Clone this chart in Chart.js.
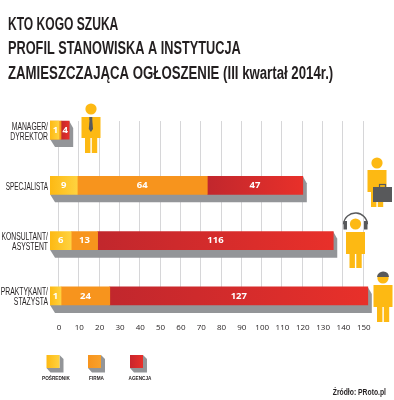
<!DOCTYPE html>
<html><head><meta charset="utf-8">
<style>html,body{margin:0;padding:0;background:#fff}#w{width:394px;height:400px;position:relative}</style>
<script src="https://cdn.jsdelivr.net/npm/chart.js@4"></script></head>
<body><div id="w"><canvas id="c" width="394" height="400"></canvas></div>
<script>
const categories = [["MANAGER/","DYREKTOR"],["SPECJALISTA"],["KONSULTANT/","ASYSTENT"],["PRAKTYKANT/","STAŻYSTA"]];
const posrednik = [0, 9, 6, 1];
const firma = [1, 64, 13, 24];
const agencja = [4, 47, 116, 127];
const tickValues = [0,10,20,30,40,50,60,70,80,90,100,110,120,130,140,150];
const titleLines = ["KTO KOGO SZUKA","PROFIL STANOWISKA A INSTYTUCJA","ZAMIESZCZAJĄCA OGŁOSZENIE (III kwartał 2014r.)"];
const seriesNames = ["POŚREDNIK","FIRMA","AGENCJA"];
const sourceText = "Źródło: PRoto.pl";

const SANS = '"Liberation Sans",sans-serif';
const axisStart = -4.43, axisEnd = 158;

function grad(c0, c1){
  return function(ctx){
    const el = ctx.chart.scales.x, r = ctx.raw;
    if(!el || !r) return c1;
    const a = el.getPixelForValue(r[0]), b = el.getPixelForValue(r[1]);
    if(!isFinite(a) || !isFinite(b)) return c1;
    const g = ctx.chart.ctx.createLinearGradient(a,0,Math.max(b,a+1),0);
    g.addColorStop(0,c0); g.addColorStop(1,c1);
    return g;
  };
}
// segments run end to end; the first one starts at the axis start, left of the zero line
const yellowSeg = posrednik.map(v=>[axisStart, v]);
const orangeSeg = firma.map((v,i)=>[posrednik[i]===0?axisStart:posrednik[i], posrednik[i]+v]);
const redSeg = agencja.map((v,i)=>[posrednik[i]+firma[i], posrednik[i]+firma[i]+v]);

function person(c,x,headY,torsoTop,torsoBot,legBot){
  c.fillStyle='#fdb913';
  c.beginPath();c.arc(x,headY,5.6,0,Math.PI*2);c.fill();
  c.fillRect(x-9.5,torsoTop,19,torsoBot-torsoTop);
  c.fillRect(x-6,torsoBot-1,5.4,legBot-torsoBot+1);
  c.fillRect(x+0.8,torsoBot-1,5.4,legBot-torsoBot+1);
}
// condensed text: no narrow face is installed, so width is squeezed horizontally
function squeezed(c,text,x,y,font,factor,align){
  c.save();c.font=font;c.textAlign=align;c.translate(x,y);c.scale(factor,1);c.fillText(text,0,0);c.restore();
}
const deco = {
  id:'deco',
  beforeDatasetsDraw(ch){
    const c=ch.ctx,x=ch.scales.x;
    const m=ch.getDatasetMeta(2).data;
    const top=m[0].y-9, bot=m[3].y+17;
    c.save();c.strokeStyle='#d6d6d8';c.lineWidth=1;
    tickValues.forEach(v=>{const p=Math.round(x.getPixelForValue(v))-0.5;
      c.beginPath();c.moveTo(p,top);c.lineTo(p,bot);c.stroke();});
    // bar shadows
    c.fillStyle='#939598';
    m.forEach(el=>{
      const x0=ch.chartArea.left,x1=el.x,t=el.y-9,b=el.y+9;
      c.beginPath();c.moveTo(x0,b);c.lineTo(x0+5,b+8);c.lineTo(x1+4,b+8);c.lineTo(x1+4,t+7);c.lineTo(x1,t);c.closePath();c.fill();
    });
    c.restore();
  },
  afterDatasetsDraw(ch){
    const c=ch.ctx;
    c.save();
    // title
    c.fillStyle='#231f20';c.textBaseline='alphabetic';
    const titleSqueeze=[0.67,0.708,0.734];
    [30,54,79].forEach((b,i)=>squeezed(c,titleLines[i],8,b,'bold 18px '+SANS,titleSqueeze[i],'left'));
    // category labels
    c.textBaseline='middle';
    categories.forEach((lines,i)=>{
      const cy=ch.scales.y.getPixelForValue(i)+1.7;
      lines.forEach((t,k)=>squeezed(c,t,48,cy+(k-(lines.length-1)/2)*10,'10px '+SANS,lines.length===1?0.64:0.68,'right'));
    });
    // value labels
    c.font='bold 9.5px "Open Sans",sans-serif';c.fillStyle='#fff';c.textAlign='center';
    [posrednik,firma,agencja].forEach((vals,d)=>{
      ch.getDatasetMeta(d).data.forEach((el,i)=>{
        if(!vals[i])return;
        const r=ch.data.datasets[d].data[i];
        const a=ch.scales.x.getPixelForValue(r[0]),b=ch.scales.x.getPixelForValue(r[1]);
        c.fillText(String(vals[i]),(a+b)/2,el.y);
      });
    });
    // people
    person(c,91,109,117,138,153);
    c.fillStyle='#58595b';c.fillRect(89.3,117,3,3);c.beginPath();c.moveTo(89.5,120);c.lineTo(92.3,120);c.lineTo(93,129);c.lineTo(90.9,132);c.lineTo(88.8,129);c.closePath();c.fill();
    person(c,377,163,170,192,207);
    c.fillStyle='#58595b';c.fillRect(373,187,19,15);
    c.strokeStyle='#58595b';c.lineWidth=1.2;c.strokeRect(379.5,184.5,6,3);
    person(c,355.5,224,232,254,268);
    c.strokeStyle='#58595b';c.lineWidth=1.3;c.beginPath();c.arc(355.5,225,12,Math.PI*1.02,Math.PI*1.98);c.stroke();
    c.fillStyle='#58595b';c.fillRect(343.5,221,3.5,8.5);c.fillRect(364,221,3.5,8.5);
    person(c,383,278,285,307,322);
    c.fillStyle='#58595b';c.beginPath();c.arc(383,277.5,6,Math.PI*1.02,Math.PI*1.98);c.closePath();c.fill();
    // legend
    const cols=[['#fdb913','#ffd23f'],['#f7941d','#f9a12b'],['#c9252c','#e8302a']];
    const xs=[46.5,88,130],lx=[56,96.5,140];
    seriesNames.forEach((n,i)=>{
      c.fillStyle='#939598';
      c.beginPath();c.moveTo(xs[i]+13,355);c.lineTo(xs[i]+17,359);c.lineTo(xs[i]+17,372.5);c.lineTo(xs[i]+4,372.5);c.lineTo(xs[i],368);c.lineTo(xs[i]+13,368);c.closePath();c.fill();
      const g=c.createLinearGradient(xs[i],0,xs[i]+13,0);g.addColorStop(0,cols[i][0]);g.addColorStop(1,cols[i][1]);
      c.fillStyle=g;c.fillRect(xs[i],355,13,13);
      c.fillStyle='#231f20';
      squeezed(c,n,lx[i],378.5,'bold 5.5px '+SANS,0.85,'center');
    });
    c.fillStyle='#231f20';
    squeezed(c,sourceText,386,392.5,'bold 8.5px '+SANS,0.8,'right');
    c.restore();
  }
};
new Chart(document.getElementById('c'),{
  type:'bar',
  plugins:[deco],
  data:{labels:categories,datasets:[
    {label:seriesNames[0],data:yellowSeg,backgroundColor:grad('#fdb913','#ffd23f'),barThickness:18,grouped:false},
    {label:seriesNames[1],data:orangeSeg,backgroundColor:'#f7941d',barThickness:18,grouped:false},
    {label:seriesNames[2],data:redSeg,backgroundColor:grad('#c1272d','#e8302a'),barThickness:18,grouped:false}
  ]},
  options:{
    indexAxis:'y',responsive:false,animation:false,devicePixelRatio:1,
    layout:{padding:{left:50,right:14,top:102.4,bottom:0}},
    plugins:{legend:{display:false},tooltip:{enabled:false},title:{display:false}},
    scales:{
      x:{type:'linear',position:'bottom',min:axisStart,max:axisEnd,
        afterBuildTicks(s){s.ticks=tickValues.map(v=>({value:v}));},
        afterFit(s){s.height=76.4;},
        grid:{display:false},border:{display:false},
        ticks:{color:'#231f20',padding:-9,maxRotation:0,autoSkip:false,font:{family:'"Open Sans",sans-serif',size:8}}},
      y:{type:'category',position:'left',offset:true,
        afterFit(s){s.width=0;},
        grid:{display:false},border:{display:false},
        ticks:{display:false}}
    }
  }
});
</script></body></html>
